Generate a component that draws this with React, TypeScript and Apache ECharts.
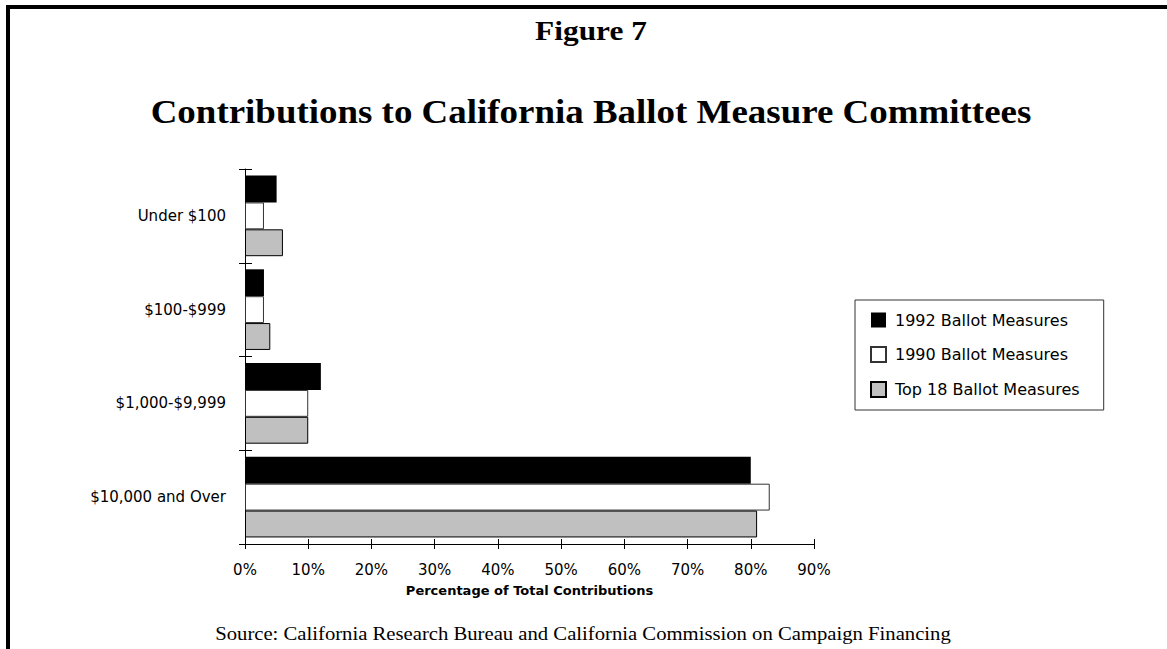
import React, { useEffect, useRef } from "react";
import * as echarts from "echarts";

const categories = ["Under $100", "$100-$999", "$1,000-$9,999", "$10,000 and Over"];
const seriesNames = ["1992 Ballot Measures", "1990 Ballot Measures", "Top 18 Ballot Measures"];
const values1992 = [5, 3, 12, 80];
const values1990 = [3, 3, 10, 83];
const valuesTop18 = [6, 4, 10, 81];
const xTicks = [0, 10, 20, 30, 40, 50, 60, 70, 80, 90];

const SANS = "DejaVu Sans";
const SERIF = "Liberation Serif";

export default function App() {
  const ref = useRef<HTMLDivElement>(null);
  useEffect(() => {
    if (!ref.current) return;
    const chart = echarts.init(ref.current, null, { renderer: "svg" });
    const xMin = xTicks[0];
    const xMax = xTicks[xTicks.length - 1];
    const xInterval = xTicks[1] - xTicks[0];
    const barStyles = [
      { color: "#000000", borderColor: "#000000", borderWidth: 0 },
      { color: "#ffffff", borderColor: "#333333", borderWidth: 1 },
      { color: "#c0c0c0", borderColor: "#000000", borderWidth: 1 },
    ];
    const dataSets = [values1992, values1990, valuesTop18];
    const option: any = {
      animation: false,
      backgroundColor: "#ffffff",
      grid: { left: 245, right: 353, top: 169, bottom: 105, containLabel: false },
      legend: {
        data: seriesNames,
        orient: "vertical",
        left: 855,
        top: 300,
        padding: [12, 24, 12, 15],
        itemWidth: 15,
        itemHeight: 15,
        itemGap: 18,
        icon: "rect",
        borderColor: "#333333",
        borderWidth: 1,
        textStyle: { fontFamily: SANS, fontSize: 16, color: "#000", padding: [0, 0, 0, 4] },
      },
      xAxis: [
        {
          type: "value",
          min: xMin,
          max: xMax,
          interval: xInterval,
          position: "bottom",
          name: "Percentage of Total Contributions",
          nameLocation: "middle",
          nameGap: 40,
          nameTextStyle: { fontFamily: SANS, fontSize: 13, fontWeight: "bold", color: "#000" },
          axisLine: { show: true, lineStyle: { color: "#000", width: 1 } },
          axisTick: { show: true, inside: false, length: 5, lineStyle: { color: "#000" } },
          axisLabel: { formatter: "{value}%", fontFamily: SANS, fontSize: 15, color: "#000", margin: 18 },
          splitLine: { show: false },
        },
        {
          type: "value",
          min: xMin,
          max: xMax,
          interval: xInterval,
          position: "bottom",
          axisLine: { show: false },
          axisTick: { show: true, inside: true, length: 5, lineStyle: { color: "#000" } },
          axisLabel: { show: false },
          splitLine: { show: false },
        },
      ],
      yAxis: [
        {
          type: "category",
          data: categories,
          inverse: true,
          position: "left",
          axisLine: { show: true, lineStyle: { color: "#000", width: 1 } },
          axisTick: { show: true, inside: false, length: 6, lineStyle: { color: "#000" } },
          axisLabel: { fontFamily: SANS, fontSize: 15, color: "#000", margin: 19 },
          splitLine: { show: false },
        },
        {
          type: "category",
          data: categories,
          inverse: true,
          position: "left",
          axisLine: { show: false },
          axisTick: { show: true, inside: true, length: 7, lineStyle: { color: "#000" } },
          axisLabel: { show: false },
          splitLine: { show: false },
        },
      ],
      series: seriesNames.map((name, i) => ({
        name,
        type: "bar",
        xAxisIndex: 0,
        yAxisIndex: 0,
        data: dataSets[i],
        barGap: "0%",
        barCategoryGap: "14%",
        itemStyle: barStyles[i],
        emphasis: { disabled: true },
      })),
      graphic: [
        { type: "rect", shape: { x: 6, y: 5, width: 1161, height: 4 }, style: { fill: "#000" } },
        { type: "rect", shape: { x: 6, y: 5, width: 4, height: 644 }, style: { fill: "#000" } },
        {
          type: "group",
          x: 591,
          y: 31,
          scaleX: 1.12,
          children: [
            {
              type: "text",
              x: 0,
              y: 0,
              style: {
                text: "Figure 7",
                fontFamily: SERIF,
                fontSize: 28,
                fontWeight: "bold",
                fill: "#000",
                textAlign: "center",
                textVerticalAlign: "middle",
              },
            },
          ],
        },
        {
          type: "group",
          x: 591,
          y: 112,
          scaleX: 1.12,
          children: [
            {
              type: "text",
              x: 0,
              y: 0,
              style: {
                text: "Contributions to California Ballot Measure Committees",
                fontFamily: SERIF,
                fontSize: 33,
                fontWeight: "bold",
                fill: "#000",
                textAlign: "center",
                textVerticalAlign: "middle",
              },
            },
          ],
        },
        {
          type: "group",
          x: 583,
          y: 634,
          scaleX: 1.15,
          children: [
            {
              type: "text",
              x: 0,
              y: 0,
              style: {
                text: "Source: California Research Bureau and California Commission on Campaign Financing",
                fontFamily: SERIF,
                fontSize: 18,
                fill: "#000",
                textAlign: "center",
                textVerticalAlign: "middle",
              },
            },
          ],
        },
      ],
    };
    chart.setOption(option);
    return () => chart.dispose();
  }, []);
  return (
    <div
      ref={ref}
      style={{ position: "fixed", left: 0, top: 0, width: 1167, height: 649, background: "#fff" }}
    />
  );
}
